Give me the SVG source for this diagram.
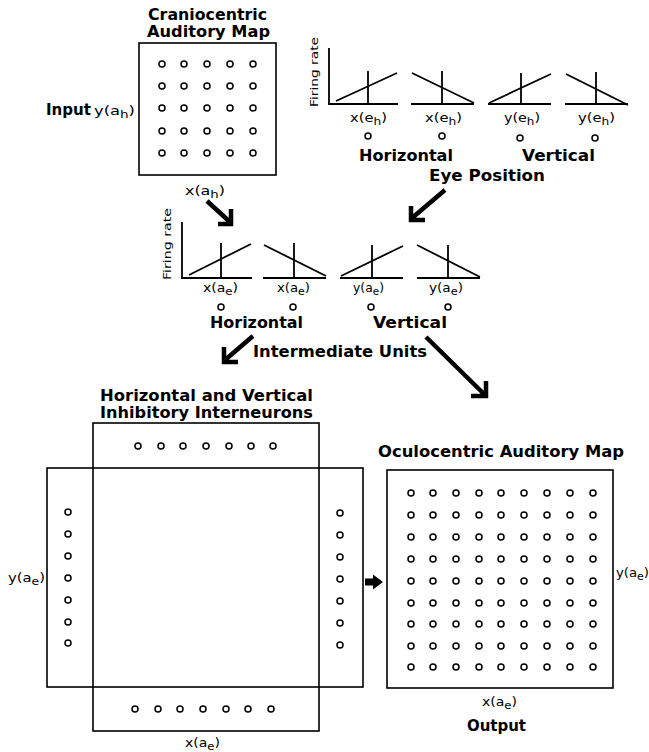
<svg xmlns="http://www.w3.org/2000/svg" width="649" height="752" viewBox="0 0 649 752">
<style>
.bg{fill:#fff}
.box{fill:none;stroke:#000;stroke-width:1.6}
.ax{fill:none;stroke:#000;stroke-width:1.8}
.dot{fill:#fff;stroke:#000;stroke-width:1.5}
.arr{fill:none;stroke:#000;stroke-width:4.5;stroke-linejoin:miter;stroke-linecap:butt}
.t{font-family:"DejaVu Sans","Liberation Sans",sans-serif;font-weight:bold;font-size:15px;fill:#000}
.s{font-family:"DejaVu Sans","Liberation Sans",sans-serif;font-size:12px;fill:#000}
.fr{font-family:"DejaVu Sans","Liberation Sans",sans-serif;font-size:11px;fill:#000}
</style>
<defs>
<circle id="c" r="3" class="dot"/>
</defs>
<rect class="bg" width="649" height="752"/>

<g id="cranio-map">
<text class="t" x="148" y="20" font-size="13" textLength="119" lengthAdjust="spacingAndGlyphs">Craniocentric</text>
<text class="t" x="147" y="37" font-size="13" textLength="123" lengthAdjust="spacingAndGlyphs">Auditory Map</text>
<rect class="box" x="139" y="43" width="137" height="132"/>
<g>
<use href="#c" x="162" y="64"/><use href="#c" x="184" y="64"/><use href="#c" x="207" y="64"/><use href="#c" x="230" y="64"/><use href="#c" x="253" y="64"/>
<use href="#c" x="162" y="86"/><use href="#c" x="184" y="86"/><use href="#c" x="207" y="86"/><use href="#c" x="230" y="86"/><use href="#c" x="253" y="86"/>
<use href="#c" x="162" y="108"/><use href="#c" x="184" y="108"/><use href="#c" x="207" y="108"/><use href="#c" x="230" y="108"/><use href="#c" x="253" y="108"/>
<use href="#c" x="162" y="131"/><use href="#c" x="184" y="131"/><use href="#c" x="207" y="131"/><use href="#c" x="230" y="131"/><use href="#c" x="253" y="131"/>
<use href="#c" x="162" y="153"/><use href="#c" x="184" y="153"/><use href="#c" x="207" y="153"/><use href="#c" x="230" y="153"/><use href="#c" x="253" y="153"/>
</g>
<text class="t" x="46" y="115" textLength="45" lengthAdjust="spacingAndGlyphs">Input</text>
<text class="s" x="94" y="115" textLength="41" lengthAdjust="spacingAndGlyphs">y(a<tspan dy="3" font-size="10">h</tspan><tspan dy="-3">)</tspan></text>
<text class="s" x="185" y="195" textLength="40" lengthAdjust="spacingAndGlyphs">x(a<tspan dy="3" font-size="10">h</tspan><tspan dy="-3">)</tspan></text>
</g>

<g id="eye-position">
<text class="fr" transform="translate(318,72) rotate(-90)" text-anchor="middle" textLength="70" lengthAdjust="spacingAndGlyphs">Firing rate</text>
<path class="ax" d="M329,48 V104 H398 M336,101 L397,73 M368,71 V104"/>
<path class="ax" d="M411,104 H474 M412,73 L474,103 M442,71 V104"/>
<path class="ax" d="M488,104 H551 M489,103 L551,74 M521,73 V104"/>
<path class="ax" d="M565,104 H628 M566,74 L628,105 M596,72 V104"/>
<text class="s" x="350" y="122" textLength="37" lengthAdjust="spacingAndGlyphs">x(e<tspan dy="3" font-size="10">h</tspan><tspan dy="-3">)</tspan></text>
<text class="s" x="425" y="122" textLength="37" lengthAdjust="spacingAndGlyphs">x(e<tspan dy="3" font-size="10">h</tspan><tspan dy="-3">)</tspan></text>
<text class="s" x="504" y="122" textLength="36" lengthAdjust="spacingAndGlyphs">y(e<tspan dy="3" font-size="10">h</tspan><tspan dy="-3">)</tspan></text>
<text class="s" x="578" y="122" textLength="37" lengthAdjust="spacingAndGlyphs">y(e<tspan dy="3" font-size="10">h</tspan><tspan dy="-3">)</tspan></text>
<use href="#c" x="368" y="136"/><use href="#c" x="442" y="136"/><use href="#c" x="520" y="138"/><use href="#c" x="595" y="138"/>
<text class="t" x="359" y="161" font-size="17" textLength="94" lengthAdjust="spacingAndGlyphs">Horizontal</text>
<text class="t" x="522" y="161" font-size="17" textLength="73" lengthAdjust="spacingAndGlyphs">Vertical</text>
<text class="t" x="429" y="181" font-size="17" textLength="116" lengthAdjust="spacingAndGlyphs">Eye Position</text>
</g>

<g id="intermediate-units">
<text class="fr" transform="translate(171,244) rotate(-90)" text-anchor="middle" textLength="72" lengthAdjust="spacingAndGlyphs">Firing rate</text>
<path class="ax" d="M182,222 V278 H252 M189,275 L251,244 M221,243 V278"/>
<path class="ax" d="M263,278 H326 M264,245 L326,276 M294,243 V278"/>
<path class="ax" d="M340,278 H403 M341,276 L403,246 M372,245 V278"/>
<path class="ax" d="M417,278 H480 M417,245 L480,277 M448,245 V278"/>
<text class="s" x="203" y="292" textLength="35" lengthAdjust="spacingAndGlyphs">x(a<tspan dy="3" font-size="10">e</tspan><tspan dy="-3">)</tspan></text>
<text class="s" x="277" y="292" textLength="33" lengthAdjust="spacingAndGlyphs">x(a<tspan dy="3" font-size="10">e</tspan><tspan dy="-3">)</tspan></text>
<text class="s" x="353" y="292" textLength="31" lengthAdjust="spacingAndGlyphs">y(a<tspan dy="3" font-size="10">e</tspan><tspan dy="-3">)</tspan></text>
<text class="s" x="429" y="292" textLength="34" lengthAdjust="spacingAndGlyphs">y(a<tspan dy="3" font-size="10">e</tspan><tspan dy="-3">)</tspan></text>
<use href="#c" x="221" y="307"/><use href="#c" x="293" y="307"/><use href="#c" x="371" y="307"/><use href="#c" x="448" y="307"/>
<text class="t" x="210" y="328" font-size="17" textLength="93" lengthAdjust="spacingAndGlyphs">Horizontal</text>
<text class="t" x="373" y="328" font-size="17" textLength="74" lengthAdjust="spacingAndGlyphs">Vertical</text>
<text class="t" x="253" y="357" font-size="17" textLength="174" lengthAdjust="spacingAndGlyphs">Intermediate Units</text>
</g>

<g id="inhibitory-interneurons">
<text class="t" x="100" y="401" font-size="14" textLength="213" lengthAdjust="spacingAndGlyphs">Horizontal and Vertical</text>
<text class="t" x="100" y="418" font-size="14" textLength="213" lengthAdjust="spacingAndGlyphs">Inhibitory Interneurons</text>
<rect class="box" x="93" y="423" width="226" height="308"/>
<rect class="box" x="47" y="468" width="316" height="219"/>
<use href="#c" x="138" y="446"/><use href="#c" x="161" y="446"/><use href="#c" x="183" y="446"/><use href="#c" x="206" y="446"/><use href="#c" x="229" y="446"/><use href="#c" x="251" y="446"/><use href="#c" x="273" y="446"/>
<use href="#c" x="135" y="709"/><use href="#c" x="158" y="709"/><use href="#c" x="180" y="709"/><use href="#c" x="203" y="709"/><use href="#c" x="226" y="709"/><use href="#c" x="248" y="709"/><use href="#c" x="271" y="709"/>
<use href="#c" x="68" y="512"/><use href="#c" x="68" y="534"/><use href="#c" x="68" y="556"/><use href="#c" x="68" y="578"/><use href="#c" x="68" y="600"/><use href="#c" x="68" y="622"/><use href="#c" x="68" y="643"/>
<use href="#c" x="340" y="513"/><use href="#c" x="340" y="535"/><use href="#c" x="340" y="557"/><use href="#c" x="340" y="579"/><use href="#c" x="340" y="601"/><use href="#c" x="340" y="623"/><use href="#c" x="340" y="645"/>
<text class="s" x="8" y="582" textLength="37" lengthAdjust="spacingAndGlyphs">y(a<tspan dy="3" font-size="10">e</tspan><tspan dy="-3">)</tspan></text>
<text class="s" x="185" y="747" textLength="35" lengthAdjust="spacingAndGlyphs">x(a<tspan dy="3" font-size="10">e</tspan><tspan dy="-3">)</tspan></text>
</g>

<g id="oculocentric-map">
<text class="t" x="378" y="457" font-size="16" textLength="246" lengthAdjust="spacingAndGlyphs">Oculocentric Auditory Map</text>
<rect class="box" x="387" y="470" width="226" height="218"/>
<g id="grid">
<g transform="translate(0,493)"><use href="#c" x="411"/><use href="#c" x="433"/><use href="#c" x="456"/><use href="#c" x="479"/><use href="#c" x="501"/><use href="#c" x="524"/><use href="#c" x="547"/><use href="#c" x="570"/><use href="#c" x="593"/></g>
<g transform="translate(0,515)"><use href="#c" x="411"/><use href="#c" x="433"/><use href="#c" x="456"/><use href="#c" x="479"/><use href="#c" x="501"/><use href="#c" x="524"/><use href="#c" x="547"/><use href="#c" x="570"/><use href="#c" x="593"/></g>
<g transform="translate(0,537)"><use href="#c" x="411"/><use href="#c" x="433"/><use href="#c" x="456"/><use href="#c" x="479"/><use href="#c" x="501"/><use href="#c" x="524"/><use href="#c" x="547"/><use href="#c" x="570"/><use href="#c" x="593"/></g>
<g transform="translate(0,559)"><use href="#c" x="411"/><use href="#c" x="433"/><use href="#c" x="456"/><use href="#c" x="479"/><use href="#c" x="501"/><use href="#c" x="524"/><use href="#c" x="547"/><use href="#c" x="570"/><use href="#c" x="593"/></g>
<g transform="translate(0,581)"><use href="#c" x="411"/><use href="#c" x="433"/><use href="#c" x="456"/><use href="#c" x="479"/><use href="#c" x="501"/><use href="#c" x="524"/><use href="#c" x="547"/><use href="#c" x="570"/><use href="#c" x="593"/></g>
<g transform="translate(0,603)"><use href="#c" x="411"/><use href="#c" x="433"/><use href="#c" x="456"/><use href="#c" x="479"/><use href="#c" x="501"/><use href="#c" x="524"/><use href="#c" x="547"/><use href="#c" x="570"/><use href="#c" x="593"/></g>
<g transform="translate(0,624)"><use href="#c" x="411"/><use href="#c" x="433"/><use href="#c" x="456"/><use href="#c" x="479"/><use href="#c" x="501"/><use href="#c" x="524"/><use href="#c" x="547"/><use href="#c" x="570"/><use href="#c" x="593"/></g>
<g transform="translate(0,646)"><use href="#c" x="411"/><use href="#c" x="433"/><use href="#c" x="456"/><use href="#c" x="479"/><use href="#c" x="501"/><use href="#c" x="524"/><use href="#c" x="547"/><use href="#c" x="570"/><use href="#c" x="593"/></g>
<g transform="translate(0,667)"><use href="#c" x="411"/><use href="#c" x="433"/><use href="#c" x="456"/><use href="#c" x="479"/><use href="#c" x="501"/><use href="#c" x="524"/><use href="#c" x="547"/><use href="#c" x="570"/><use href="#c" x="593"/></g>
</g>
<text class="s" x="616" y="577" textLength="33" lengthAdjust="spacingAndGlyphs">y(a<tspan dy="3" font-size="10">e</tspan><tspan dy="-3">)</tspan></text>
<text class="s" x="482" y="706" textLength="35" lengthAdjust="spacingAndGlyphs">x(a<tspan dy="3" font-size="10">e</tspan><tspan dy="-3">)</tspan></text>
<text class="t" x="467" y="731" font-size="17" textLength="59" lengthAdjust="spacingAndGlyphs">Output</text>
</g>

<g id="connectors">
<path class="arr" d="M207,201 L230,222 M231,209 V224 H218"/>
<path class="arr" d="M445,190 L412,218 M411,206 V220 H425"/>
<path class="arr" d="M253,336 L225,360 M224,347 V362 H238"/>
<path class="arr" d="M426,337 L484,394 M486,381 V396 H471"/>
<path d="M365,578.5 H373 V574.5 L383,582 L373,589.5 V585.5 H365 Z" fill="#000"/>
</g>
</svg>
